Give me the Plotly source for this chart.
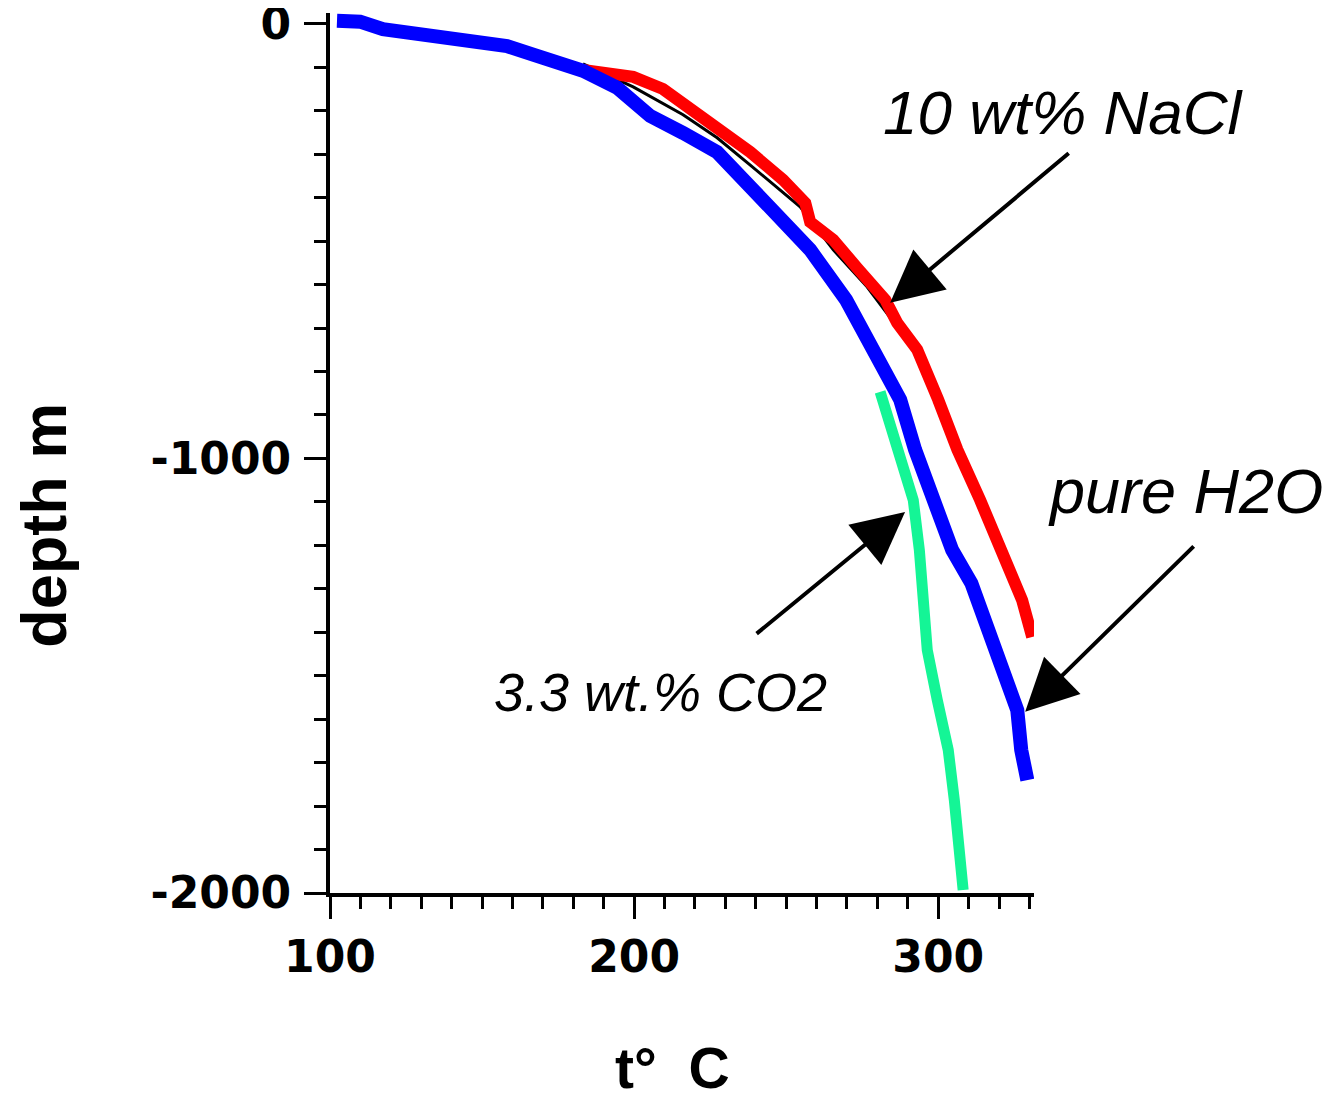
import plotly.graph_objects as go

# ---- data (temperature °C, depth m) ----
h2o_t = [102.3, 109.9, 117.4, 139.5, 158.2, 166.8, 183.2, 194.4, 205.3, 216.1, 227.3, 238.2,
         249.0, 257.9, 269.7, 278.0, 287.5, 292.4, 299.0, 304.6, 310.9, 314.8, 319.4, 322.0,
         326.0, 327.3, 329.3]
h2o_d = [7, 5, -12, -32, -51, -71, -108, -147, -212, -251, -295, -375,
         -456, -520, -635, -750, -865, -980, -1096, -1211, -1287, -1365, -1441, -1517,
         -1579, -1671, -1740]

nacl_t = [183.2, 199.7, 209.5, 216.1, 227.3, 238.2, 249.0, 256.3, 257.9, 265.5, 273.4, 279.9,
          282.6, 286.5, 293.1, 300.0, 306.3, 313.8, 321.1, 327.6, 330.9]
nacl_d = [-106, -122, -150, -184, -237, -295, -359, -412, -456, -497, -562, -617,
          -635, -688, -750, -865, -980, -1096, -1211, -1326, -1411]

nacl_scan_t = [183.2, 199.7, 216.1, 227.3, 238.2, 249.0, 254.6, 265.5, 276.6, 286.5]
nacl_scan_d = [-92, -145, -209, -262, -325, -389, -421, -520, -605, -697]

co2_t = [280.9, 286.5, 291.8, 293.8, 295.4, 296.4, 299.7, 303.3, 305.3, 306.9, 308.2]
co2_d = [-847, -980, -1096, -1211, -1326, -1441, -1556, -1671, -1786, -1901, -1993]

x_ticks = [100, 200, 300]
y_ticks = [0, -1000, -2000]

fig = go.Figure()
fig.add_trace(go.Scatter(x=nacl_scan_t, y=nacl_scan_d, mode="lines",
                         line=dict(color="black", width=3), showlegend=False))
fig.add_trace(go.Scatter(x=nacl_t, y=nacl_d, mode="lines",
                         line=dict(color="#ff0000", width=12), showlegend=False))
fig.add_trace(go.Scatter(x=co2_t, y=co2_d, mode="lines",
                         line=dict(color="#14f596", width=11), showlegend=False))
fig.add_trace(go.Scatter(x=h2o_t, y=h2o_d, mode="lines",
                         line=dict(color="#0000ff", width=14), showlegend=False))

tickfont = dict(family="DejaVu Sans", size=44, color="black", weight="bold")
fig.update_xaxes(range=[100, 331.5], tickvals=x_ticks, ticktext=[str(v) for v in x_ticks],
                 showgrid=False, zeroline=False, showline=True, linecolor="black", linewidth=4,
                 ticks="outside", ticklen=22, tickwidth=3, tickcolor="black",
                 minor=dict(dtick=10, tick0=100, ticks="outside", ticklen=12, tickwidth=3,
                            tickcolor="black", showgrid=False),
                 tickfont=tickfont, ticklabelstandoff=0, ticklabeloverflow="allow")
fig.update_yaxes(range=[-2000, 25], tickvals=y_ticks, ticktext=[str(v) for v in y_ticks],
                 showgrid=False, zeroline=False, showline=True, linecolor="black", linewidth=4,
                 ticks="outside", ticklen=22, tickwidth=3, tickcolor="black",
                 minor=dict(dtick=100, tick0=0, ticks="outside", ticklen=12, tickwidth=3,
                            tickcolor="black", showgrid=False),
                 tickfont=tickfont, ticklabelstandoff=4, ticklabeloverflow="allow")

txt_font = dict(family="Liberation Sans", color="black")
ann = [
    dict(text="<i>10 wt% NaCl</i>", x=1.0412, y=0.8864, size=62),
    dict(text="<i>pure H2O</i>", x=1.2159, y=0.4568, size=63),
    dict(text="<i>3.3 wt.% CO2</i>", x=0.4688, y=0.2284, size=54),
]
for a in ann:
    fig.add_annotation(text=a["text"], x=a["x"], y=a["y"], xref="paper", yref="paper",
                       showarrow=False, xanchor="center", yanchor="middle",
                       font=dict(size=a["size"], **txt_font))

arrows = [
    dict(x=284.2, y=-642, ax=343.4, ay=-295),
    dict(x=289.1, y=-1123, ax=239.8, ay=-1406),
    dict(x=328.6, y=-1583, ax=384.5, ay=-1199),
]
for a in arrows:
    fig.add_annotation(x=a["x"], y=a["y"], ax=a["ax"], ay=a["ay"], xref="x", yref="y",
                       axref="x", ayref="y", text="", showarrow=True, arrowhead=2,
                       arrowsize=2.6, arrowwidth=4, arrowcolor="black")

fig.add_annotation(text="depth m", x=-0.458, y=0.418, xref="paper", yref="paper",
                   showarrow=False, textangle=-90,
                   font=dict(family="Liberation Sans", size=63, color="black", weight="bold"))
fig.add_annotation(text="t°  C", x=0.4858, y=-0.238, xref="paper", yref="paper",
                   showarrow=False,
                   font=dict(family="Liberation Sans", size=57, color="black", weight="bold"))

fig.update_layout(width=1331, height=1091, paper_bgcolor="white", plot_bgcolor="white",
                  margin=dict(l=322, r=305, t=5, b=206, autoexpand=False))
fig.write_html("out.html")
